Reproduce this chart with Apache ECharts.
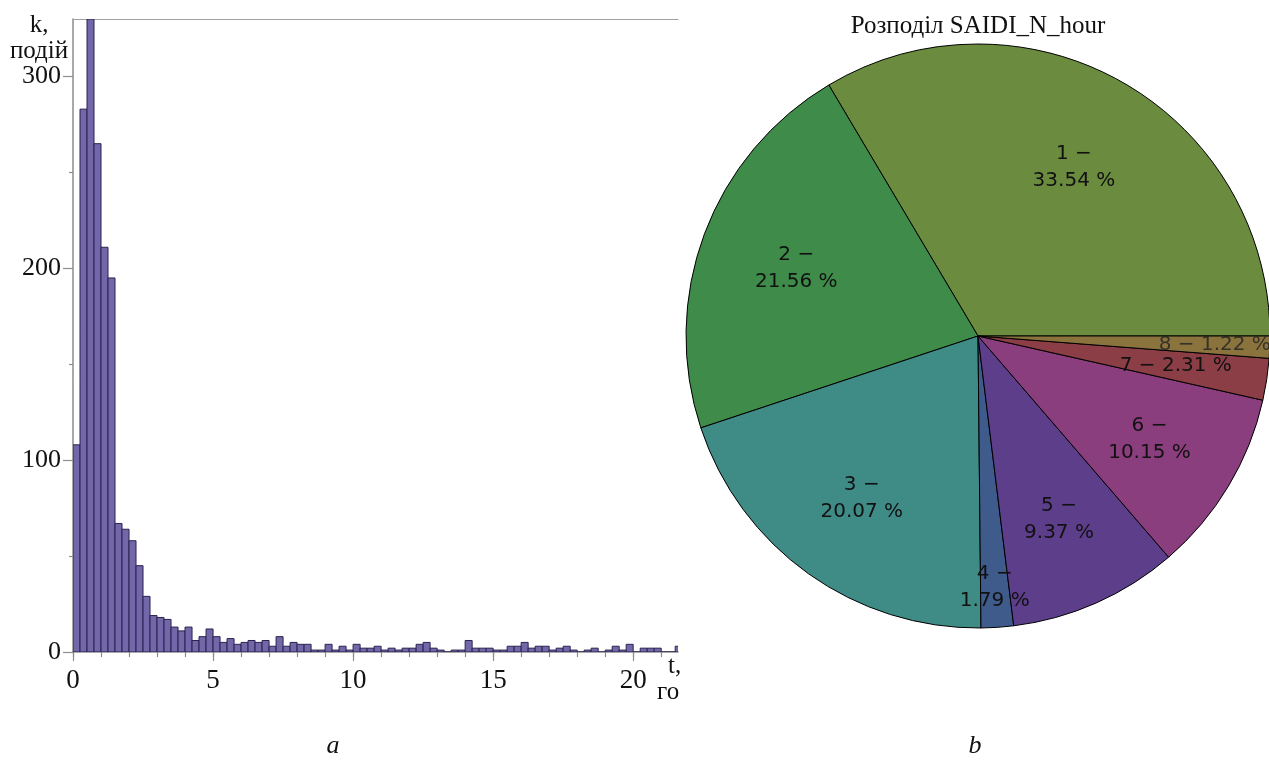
<!DOCTYPE html>
<html>
<head>
<meta charset="utf-8">
<script src="https://cdn.jsdelivr.net/npm/echarts@6/dist/echarts.min.js"></script>
<style>
html,body{margin:0;padding:0;background:#fff;}
#c{width:1269px;height:761px;}
</style>
</head>
<body>
<div id="c"></div>
<script>
// ---- Histogram data (bins of 0.25 h) ----
const binWidth = 0.25;
const counts = [
  108, 283, 330, 265, 211, 195, 67, 64, 58, 45,
  29, 19, 18, 17, 13, 11, 13, 6, 8, 12,
  8, 5, 7, 4, 5, 6, 5, 6, 3, 8,
  3, 5, 4, 4, 1, 1, 4, 1, 3, 1,
  4, 2, 2, 3, 1, 2, 1, 2, 2, 4,
  5, 2, 1, 0, 1, 1, 6, 2, 2, 2,
  1, 1, 3, 3, 5, 2, 3, 3, 1, 2,
  3, 1, 0, 1, 2, 0, 1, 3, 1, 4,
  0, 2, 2, 2, 0, 0, 3
];
const xMajorTicks = [0, 5, 10, 15, 20];
const xMinorTicks = [0,1,2,3,4,5,6,7,8,9,10,11,12,13,14,15,16,17,18,19,20,21];
const yMajorTicks = [0, 100, 200, 300];
const yMinorTicks = [50, 150, 250];

// ---- Pie data ----
const pieNames = ['1', '2', '3', '4', '5', '6', '7', '8'];
const piePercents = [33.54, 21.56, 20.07, 1.79, 9.37, 10.15, 2.31, 1.22];
const pieColors = ['#6b8b3f', '#3e8b4a', '#3f8b86', '#3f5b8b', '#5d3e8b', '#8b3e7e', '#8b3e45', '#8b733e'];
const oneLineLabels = ['7', '8'];

const histData = counts.map((c, i) => [i * binWidth, (i + 1) * binWidth, c]);
const pieTotal = piePercents.reduce((a, b) => a + b, 0);

const serif = '"Liberation Serif", "Times New Roman", serif';
const sans = '"DejaVu Sans", sans-serif';
const axisGray = '#8c8c8c';

function fmtLabel(name, value) {
  return oneLineLabels.includes(name)
    ? name + ' \u2212 ' + value.toFixed(2) + ' %'
    : name + ' \u2212\n' + value.toFixed(2) + ' %';
}

function pieLabelSeries(showIdx, inner, lineH) {
  return {
    type: 'pie',
    center: [978, 336],
    radius: [inner, 292],
    startAngle: 0,
    clockwise: false,
    silent: true,
    avoidLabelOverlap: false,
    z: 5,
    itemStyle: { color: 'rgba(0,0,0,0)', borderWidth: 0 },
    emphasis: { disabled: true },
    labelLine: { show: false },
    label: {
      show: true,
      position: 'inside',
      color: '#111',
      fontFamily: sans,
      fontSize: 20,
      lineHeight: lineH,
      formatter: p => fmtLabel(p.name, p.value)
    },
    data: pieNames.map((n, i) => ({
      name: n, value: piePercents[i],
      label: { show: showIdx.includes(i) }
    }))
  };
}

// label of the thin slice 8, placed at its mid angle through a polar system
const smallLabelIdx = 7;
const smallLabelRadius = 237;
const cumBefore = piePercents.slice(0, smallLabelIdx).reduce((a, b) => a + b, 0);
const smallLabelAngle = cumBefore + piePercents[smallLabelIdx] / 2;

const chart = echarts.init(document.getElementById('c'), null, { renderer: 'canvas' });
chart.setOption({
  animation: false,
  backgroundColor: '#ffffff',
  grid: { left: 73, top: 19, width: 605, height: 633 },
  polar: { center: [978, 336], radius: 292 },
  angleAxis: { type: 'value', min: 0, max: pieTotal, startAngle: 0, clockwise: false, show: false },
  radiusAxis: { type: 'value', min: 0, max: 292, show: false },
  xAxis: [
    {
      type: 'value', min: 0, max: 21.6, position: 'bottom',
      axisLine: { show: true, lineStyle: { color: axisGray, width: 1.5 } },
      axisTick: { show: true, length: 9, customValues: xMajorTicks, lineStyle: { color: axisGray, width: 1.2 } },
      axisLabel: { show: true, margin: 15, customValues: xMajorTicks, color: '#111', fontFamily: serif, fontSize: 27 },
      splitLine: { show: false }
    },
    {
      type: 'value', min: 0, max: 21.6, position: 'bottom',
      axisLine: { show: false },
      axisTick: { show: true, length: 5, customValues: xMinorTicks, lineStyle: { color: axisGray, width: 1.2 } },
      axisLabel: { show: false },
      splitLine: { show: false }
    },
    {
      type: 'value', min: 0, max: 21.6, position: 'top',
      axisLine: { show: true, lineStyle: { color: '#a0a0a0', width: 1.2 } },
      axisTick: { show: false }, axisLabel: { show: false }, splitLine: { show: false }
    }
  ],
  yAxis: [
    {
      type: 'value', min: 0, max: 330, position: 'left',
      axisLine: { show: true, lineStyle: { color: axisGray, width: 1.5 } },
      axisTick: { show: true, length: 10, customValues: yMajorTicks, lineStyle: { color: axisGray, width: 1.2 } },
      axisLabel: { show: true, margin: 12, customValues: yMajorTicks, color: '#111', fontFamily: serif, fontSize: 26 },
      splitLine: { show: false }
    },
    {
      type: 'value', min: 0, max: 330, position: 'left',
      axisLine: { show: false },
      axisTick: { show: true, length: 4, customValues: yMinorTicks, lineStyle: { color: axisGray, width: 1.2 } },
      axisLabel: { show: false },
      splitLine: { show: false }
    }
  ],
  graphic: [
    { type: 'text', x: 39, y: 25, style: { text: 'k,', font: '25px ' + serif, fill: '#111', textAlign: 'center', textVerticalAlign: 'middle', align: 'center', verticalAlign: 'middle' } },
    { type: 'text', x: 39, y: 51, style: { text: 'подій', font: '25px ' + serif, fill: '#111', textAlign: 'center', textVerticalAlign: 'middle', align: 'center', verticalAlign: 'middle' } },
    { type: 'text', x: 668, y: 666, style: { text: 't,', font: '25px ' + serif, fill: '#111', textAlign: 'left', textVerticalAlign: 'middle', align: 'left', verticalAlign: 'middle' } },
    { type: 'text', x: 657, y: 692, style: { text: 'го', font: '25px ' + serif, fill: '#111', textAlign: 'left', textVerticalAlign: 'middle', align: 'left', verticalAlign: 'middle' } },
    { type: 'text', x: 333, y: 746, style: { text: 'a', font: 'italic 26px ' + serif, fill: '#111', textAlign: 'center', textVerticalAlign: 'middle', align: 'center', verticalAlign: 'middle' } },
    { type: 'text', x: 975, y: 746, style: { text: 'b', font: 'italic 26px ' + serif, fill: '#111', textAlign: 'center', textVerticalAlign: 'middle', align: 'center', verticalAlign: 'middle' } },
    { type: 'text', x: 978, y: 26, style: { text: 'Розподіл SAIDI_N_hour', font: '25px ' + serif, fill: '#111', textAlign: 'center', textVerticalAlign: 'middle', align: 'center', verticalAlign: 'middle' } }
  ],
  series: [
    {
      type: 'custom',
      xAxisIndex: 0, yAxisIndex: 0,
      clip: true,
      encode: { x: [0, 1], y: 2 },
      data: histData,
      renderItem: function (params, api) {
        const p0 = api.coord([api.value(0), api.value(2)]);
        const p1 = api.coord([api.value(1), 0]);
        return {
          type: 'rect',
          shape: { x: p0[0], y: p0[1], width: p1[0] - p0[0], height: p1[1] - p0[1] },
          style: { fill: '#7367a9', stroke: '#2a2350', lineWidth: 1 }
        };
      }
    },
    {
      type: 'pie',
      center: [978, 336],
      radius: 292,
      startAngle: 0,
      clockwise: false,
      silent: true,
      z: 2,
      label: { show: false },
      labelLine: { show: false },
      emphasis: { disabled: true },
      itemStyle: { borderColor: '#000', borderWidth: 1 },
      data: pieNames.map((n, i) => ({ name: n, value: piePercents[i], itemStyle: { color: pieColors[i] } }))
    },
    pieLabelSeries([0, 1], 90, 27),
    pieLabelSeries([2, 4, 5, 6], 102, 27),
    pieLabelSeries([3], 206, 27),
    {
      type: 'scatter',
      coordinateSystem: 'polar',
      polarIndex: 0,
      silent: true,
      z: 6,
      symbolSize: 1,
      itemStyle: { color: 'rgba(0,0,0,0)' },
      emphasis: { disabled: true },
      label: {
        show: true,
        position: 'inside',
        color: '#222',
        fontFamily: sans,
        fontSize: 20,
        formatter: p => fmtLabel(p.name, p.value[2])
      },
      data: [{ name: pieNames[smallLabelIdx], value: [smallLabelRadius, smallLabelAngle, piePercents[smallLabelIdx]] }]
    }
  ]
});
</script>
</body>
</html>
